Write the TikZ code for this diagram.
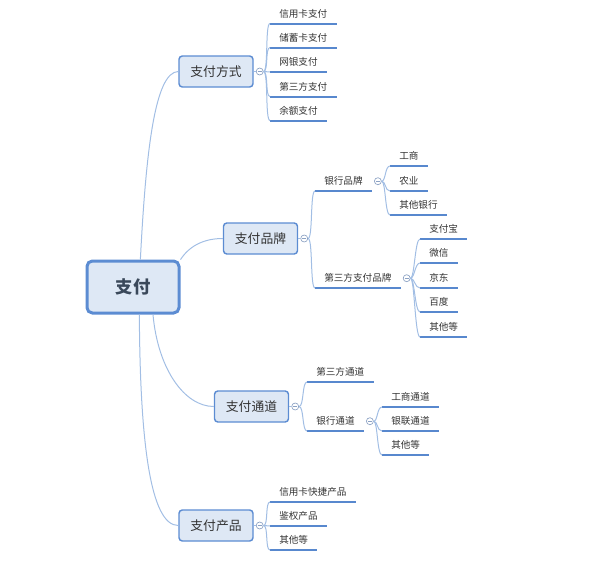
\documentclass[tikz,border=0pt]{standalone}
\usepackage{fontspec}
\newfontfamily\cjk{Noto Sans CJK SC}
\usetikzlibrary{positioning}
\definecolor{boxfill}{RGB}{222,232,245}
\definecolor{boxline}{RGB}{92,140,210}
\definecolor{ulinec}{RGB}{88,136,206}
\definecolor{linkc}{RGB}{162,190,228}
\definecolor{foldc}{RGB}{140,162,196}
\definecolor{txt}{RGB}{51,51,51}
\definecolor{roottxt}{RGB}{58,72,90}
\tikzset{
  zhuti/.style={draw=boxline, line width=2.25pt, fill=boxfill, rounded corners=4pt,
    minimum width=69pt, minimum height=39pt, text=roottxt,
    font=\cjk\bfseries\fontsize{13}{15}\selectfont},
  fenzhi/.style={draw=boxline, line width=1.1pt, fill=boxfill, rounded corners=2.5pt,
    minimum width=55.5pt, minimum height=23.25pt, text=txt,
    font=\cjk\fontsize{9.6}{11}\selectfont},
  ye/.style={anchor=south west, inner xsep=6.75pt, inner ysep=3.5pt, text height=6.4pt,
    text depth=0.9pt, text=txt, font=\cjk\fontsize{7.2}{8.5}\selectfont},
  uline/.style={draw=ulinec, line width=1.5pt},
  link/.style={draw=linkc, line width=0.75pt},
  fold/.style={circle, draw=foldc, fill=white, line width=0.5pt, minimum size=5.25pt, inner sep=0pt,
    path picture={\draw[foldc, line width=0.5pt] ([xshift=-1.5pt]path picture bounding box.center)
      -- ([xshift=1.5pt]path picture bounding box.center);}},
}
\begin{document}
\begin{tikzpicture}[x=0.75pt,y=0.75pt,yscale=-1,xscale=1]
\useasboundingbox (0,0) rectangle (608,572);
%Shape: Root
\node[zhuti] (zf) at (133,287) {支付};
%Shape: Rounded Rectangle
\node[fenzhi] (zffs) at (216,71.5) {支付方式};
\node[fenzhi] (zfpp) at (260.5,238.5) {支付品牌};
\node[fenzhi] (zftd) at (251.5,406.5) {支付通道};
\node[fenzhi] (zfcp) at (216,525.5) {支付产品};
%Curve Lines
\draw[link] (zf.75) .. controls (146,150) and (155,72) .. (zffs.west);
\draw[link] (zf.30) .. controls (190,245) and (205,238.5) .. (zfpp.west);
\draw[link] (zf.-54) .. controls (158,370) and (185,406.5) .. (zftd.west);
\draw[link] (zf.-77) .. controls (140,440) and (150,525.5) .. (zfcp.west);

%Leaves
\node[ye] (xykzf) at (270,23.5) {信用卡支付};
\node[ye] (cxkzf) at (270,47.5) {储蓄卡支付};
\node[ye] (wyzf) at (270,72) {网银支付};
\node[ye] (dsfzf) at (270,96.5) {第三方支付};
\node[ye] (yezf) at (270,120.5) {余额支付};

\node[ye] (yhpp) at (315,191) {银行品牌};
\node[ye] (dsfpp) at (315,288) {第三方支付品牌};
\node[ye] (gs) at (390,166) {工商};
\node[ye] (ny) at (390,191) {农业};
\node[ye] (qtyh) at (390,215) {其他银行};
\node[ye] (zfb) at (420,239) {支付宝};
\node[ye] (wx) at (420,263) {微信};
\node[ye] (jd) at (420,288) {京东};
\node[ye] (bd) at (420,312) {百度};
\node[ye] (qtd1) at (420,337) {其他等};

\node[ye] (dsftd) at (307,382) {第三方通道};
\node[ye] (yhtd) at (307,431) {银行通道};
\node[ye] (gstd) at (382,407) {工商通道};
\node[ye] (yltd) at (382,431) {银联通道};
\node[ye] (qtd2) at (382,455) {其他等};

\node[ye] (xykkj) at (270,502) {信用卡快捷产品};
\node[ye] (jqcp) at (270,526) {鉴权产品};
\node[ye] (qtd3) at (270,550) {其他等};

%Straight Lines
\foreach \n in {xykzf,cxkzf,wyzf,dsfzf,yezf,yhpp,dsfpp,gs,ny,qtyh,zfb,wx,jd,bd,qtd1,
  dsftd,yhtd,gstd,yltd,qtd2,xykkj,jqcp,qtd3}
  \draw[uline] (\n.south west) -- (\n.south east);

%Shape: Circle
\node[fold, right=1.6pt of zffs] (f1) {};
\node[fold, right=1.6pt of zfpp] (f2) {};
\node[fold, right=1.6pt of yhpp] (f3) {};
\node[fold, right=1.6pt of dsfpp] (f4) {};
\node[fold, right=1.6pt of zftd] (f5) {};
\node[fold, right=1.6pt of yhtd] (f6) {};
\node[fold, right=1.6pt of zfcp] (f7) {};
\foreach \a/\b in {zffs/f1,zfpp/f2,zftd/f5,zfcp/f7}
  \draw[link] (\a.east) -- (\b.west);

%Curve Lines
\foreach \n in {xykzf,cxkzf,wyzf,dsfzf,yezf}
  \draw[link] (f1.east) .. controls +(5,0) and +(-5,0) .. (\n.south west);
\foreach \n in {yhpp,dsfpp}
  \draw[link] (f2.east) .. controls +(5,0) and +(-5,0) .. (\n.south west);
\foreach \n in {gs,ny,qtyh}
  \draw[link] (f3.east) .. controls +(4,0) and +(-5,0) .. (\n.south west);
\foreach \n in {zfb,wx,jd,bd,qtd1}
  \draw[link] (f4.east) .. controls +(4,0) and +(-5,0) .. (\n.south west);
\foreach \n in {dsftd,yhtd}
  \draw[link] (f5.east) .. controls +(5,0) and +(-5,0) .. (\n.south west);
\foreach \n in {gstd,yltd,qtd2}
  \draw[link] (f6.east) .. controls +(4,0) and +(-5,0) .. (\n.south west);
\foreach \n in {xykkj,jqcp,qtd3}
  \draw[link] (f7.east) .. controls +(5,0) and +(-5,0) .. (\n.south west);
\end{tikzpicture}
\end{document}
